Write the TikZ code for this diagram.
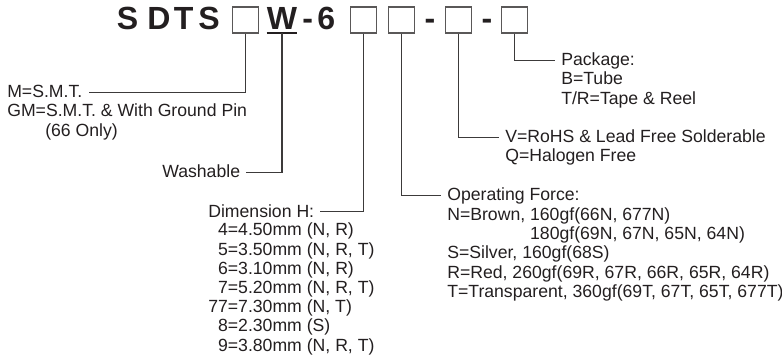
\documentclass[tikz,border=0pt]{standalone}
\usepackage{fontspec}
\setmainfont{Liberation Sans}
\usepackage{xcolor}
\definecolor{ink}{HTML}{231F20}
\definecolor{wire}{HTML}{3C3A3A}
\definecolor{frame}{HTML}{5A5858}
\newcommand{\textrows}[1]{\begin{tabular}[t]{@{}l@{}}#1\end{tabular}}

\begin{document}
\begin{tikzpicture}[
    code/.style={font=\fontsize{22.8}{24}\selectfont\bfseries, text=ink, inner sep=0, anchor=base},
    slot/.style={draw=frame, line width=0.8pt, minimum width=0.65cm, minimum height=0.65cm, inner sep=0},
    head/.style={font=\fontsize{12.55}{13.65}\selectfont, text=ink, inner sep=0, anchor=base west,
        text height=0.29cm, text depth=0},
    list/.style={font=\fontsize{12.55}{13.65}\selectfont, text=ink, inner sep=0, anchor=base west},
    lead/.style={draw=wire, line width=0.8pt, shorten >=0.15cm}
]
\useasboundingbox (0,0) rectangle (19.55,-8.90);

% Part number line.
\foreach \x/\c/\n in {3.19/S/s1,3.975/D/d1,4.59/T/t1,5.225/S/s2,7.69/-/h1,8.16/6/six,10.75/-/h2,12.175/-/h3}
    \node[code] (\n) at (\x,-0.75) {\c};
\node[code] (wsym) at (7.05,-0.75) {W};
\draw[draw=ink, line width=1.1pt] ([yshift=-0.08cm]wsym.base west) -- ([yshift=-0.08cm]wsym.base east);

\node[slot] (mount) at (6.14,-0.50) {};
\node[slot] (dim) at (9.09,-0.50) {};
\node[slot] (force) at (10.04,-0.50) {};
\node[slot] (rohs) at (11.46,-0.50) {};
\node[slot] (pack) at (12.86,-0.50) {};

% Mounting type.
\node[head] (mhead) at (0.175,-2.45) {M=S.M.T.};
\node[list] (mlist) at (0.175,-2.925) {\textrows{GM=S.M.T. \& With Ground Pin\\\hspace{0.95cm}(66 Only)}};
\draw[lead] (mount.south) |- (mhead.east);

% Washable.
\node[head] (wash) at (4.05,-4.45) {Washable};
\draw[lead] ([yshift=-0.08cm]wsym.base) |- (wash.east);

% Dimension H.
\node[head] (dhead) at (5.20,-5.425) {Dimension H:};
\node[list] (dlist) at (5.20,-5.90) {\textrows{\phantom{7}4=4.50mm (N, R)\\
    \phantom{7}5=3.50mm (N, R, T)\\
    \phantom{7}6=3.10mm (N, R)\\
    \phantom{7}7=5.20mm (N, R, T)\\
    77=7.30mm (N, T)\\
    \phantom{7}8=2.30mm (S)\\
    \phantom{7}9=3.80mm (N, R, T)}};
\draw[lead] (dim.south) |- (dhead.east);

% Operating force.
\node[head] (fhead) at (11.175,-5.025) {Operating Force:};
\node[list] (flist) at (11.175,-5.5125) {\textrows{N=Brown, 160gf(66N, 677N)\\
    \phantom{N=Brown, }180gf(69N, 67N, 65N, 64N)\\
    S=Silver, 160gf(68S)\\
    R=Red, 260gf(69R, 67R, 66R, 65R, 64R)\\
    T=Transparent, 360gf(69T, 67T, 65T, 677T)}};
\draw[lead] (force.south) |- (fhead.west);

% RoHS option.
\node[head] (rhead) at (12.625,-3.575) {V=RoHS \& Lead Free Solderable};
\node[list] (rlist) at (12.625,-4.05) {Q=Halogen Free};
\draw[lead] (rohs.south) |- (rhead.west);

% Package.
\node[head] (phead) at (14.025,-1.65) {Package:};
\node[list] (plist) at (14.025,-2.125) {\textrows{B=Tube\\T/R=Tape \& Reel}};
\draw[lead] (pack.south) |- (phead.west);
\end{tikzpicture}
\end{document}
